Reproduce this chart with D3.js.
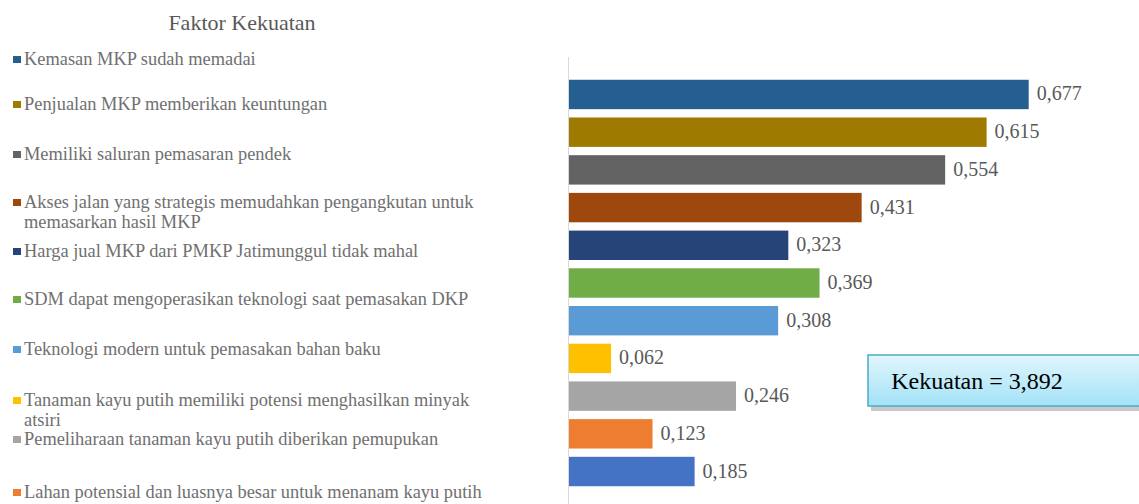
<!DOCTYPE html>
<meta charset="utf-8">
<script src="https://d3js.org/d3.v7.min.js"></script>
<style>
  body { margin: 0; background: #fff; }
  svg text { font-family: "Liberation Serif", "Times New Roman", serif; }
</style>
<div id="my_dataviz"></div>
<script>
// bar values, top to bottom
var values = [0.677, 0.615, 0.554, 0.431, 0.323, 0.369, 0.308, 0.062, 0.246, 0.123, 0.185];
var valueLabels = ["0,677", "0,615", "0,554", "0,431", "0,323", "0,369", "0,308", "0,062", "0,246", "0,123", "0,185"];
var barColors = ["#255e91", "#9e7b00", "#636363", "#9e480e", "#264478", "#70ad47",
                 "#5b9bd5", "#ffc000", "#a5a5a5", "#ed7d31", "#4472c4"];

// legend entries (the last one is cut off in the picture)
var legendLabels = [
  ["Kemasan MKP sudah memadai"],
  ["Penjualan MKP memberikan keuntungan"],
  ["Memiliki saluran pemasaran pendek"],
  ["Akses jalan yang strategis memudahkan pengangkutan untuk", "memasarkan hasil MKP"],
  ["Harga jual MKP dari PMKP Jatimunggul tidak mahal"],
  ["SDM dapat mengoperasikan teknologi  saat pemasakan DKP"],
  ["Teknologi modern untuk pemasakan bahan baku"],
  ["Tanaman kayu putih memiliki potensi menghasilkan minyak", "atsiri"],
  ["Pemeliharaan tanaman kayu putih diberikan pemupukan"],
  ["Lahan potensial dan luasnya besar untuk menanam kayu putih"]
];
var legendY = [60, 105, 155, 203, 252, 300, 350, 401, 440, 493];

var title = "Faktor Kekuatan";
var totalLabel = "Kekuatan = 3,892";
var serif = "Liberation Serif";

var W = 1139, H = 504;
var svg = d3.select("#my_dataviz").append("svg")
    .attr("width", W).attr("height", H);

var defs = svg.append("defs");
var grad = defs.append("linearGradient").attr("id", "boxfill")
    .attr("x1", 0).attr("y1", 0).attr("x2", 0).attr("y2", 1);
grad.append("stop").attr("offset", "0%").attr("stop-color", "#e2f6fd");
grad.append("stop").attr("offset", "100%").attr("stop-color", "#a2e2f7");

// title
svg.append("text")
    .attr("x", 242).attr("y", 30)
    .attr("text-anchor", "middle")
    .attr("font-family", serif)
    .attr("font-size", 22)
    .attr("fill", "#595959")
    .text(title);

// legend
var leg = svg.selectAll(".leg")
  .data(legendLabels)
  .enter().append("g")
    .attr("class", "leg")
    .attr("transform", function(d, i) { return "translate(0," + legendY[i] + ")"; });
leg.append("rect")
    .attr("x", 13).attr("y", -4).attr("width", 8).attr("height", 7)
    .attr("fill", function(d, i) { return barColors[i]; });
leg.each(function(d) {
  var t = d3.select(this).append("text")
      .attr("font-family", serif)
      .attr("font-size", 18.4)
      .attr("fill", "#707070");
  d.forEach(function(line, j) {
    t.append("tspan").attr("x", 24).attr("y", 5 + j * 20).text(line);
  });
});

// bars
var x = d3.scaleLinear().domain([0, 0.8]).range([569, 569 + 0.8 * 679]);
var y = d3.scaleBand().domain(d3.range(values.length)).range([76, 490]).paddingInner(0.22).paddingOuter(0.1);

svg.append("line")
    .attr("x1", 568.5).attr("x2", 568.5)
    .attr("y1", 57).attr("y2", H)
    .attr("stroke", "#d9d9d9").attr("stroke-width", 1);

svg.selectAll(".bar")
  .data(values)
  .enter().append("rect")
    .attr("class", "bar")
    .attr("x", x(0))
    .attr("y", function(d, i) { return y(i); })
    .attr("width", function(d) { return x(d) - x(0); })
    .attr("height", y.bandwidth())
    .attr("fill", function(d, i) { return barColors[i]; });

svg.selectAll(".val")
  .data(values)
  .enter().append("text")
    .attr("class", "val")
    .attr("x", function(d) { return x(d) + 8; })
    .attr("y", function(d, i) { return y(i) + y.bandwidth() / 2 + 6; })
    .attr("font-family", serif)
    .attr("font-size", 20)
    .attr("fill", "#595959")
    .text(function(d, i) { return valueLabels[i]; });

// total box
svg.append("rect")
    .attr("x", 871).attr("y", 359).attr("width", 280).attr("height", 52)
    .attr("fill", "#c8c8c8");
svg.append("rect")
    .attr("x", 868).attr("y", 355).attr("width", 280).attr("height", 51)
    .attr("fill", "url(#boxfill)")
    .attr("stroke", "#4bacc6").attr("stroke-width", 1.5);
svg.append("text")
    .attr("x", 977).attr("y", 389)
    .attr("text-anchor", "middle")
    .attr("font-family", serif)
    .attr("font-size", 24)
    .attr("fill", "#000")
    .text(totalLabel);
</script>
